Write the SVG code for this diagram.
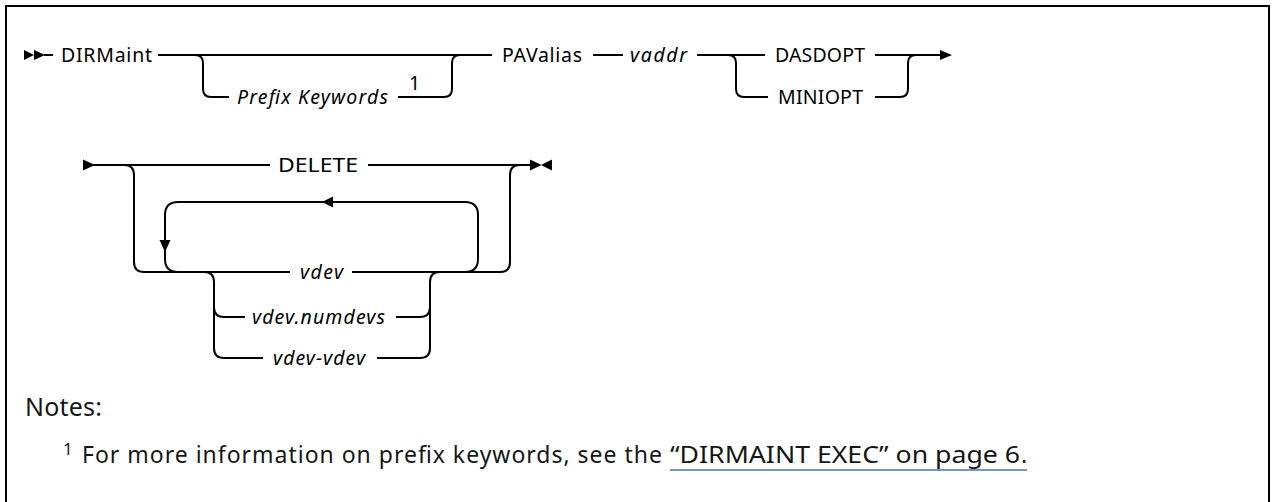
<svg xmlns="http://www.w3.org/2000/svg" width="1273" height="502" viewBox="0 0 1273 502">
  <style>
    .ln { fill: none; stroke: #000; stroke-width: 2; }
    .ah { fill: #000; stroke: none; }
    .t { font-family: "Noto Sans", "Liberation Sans", Arial, sans-serif; font-size: 19.5px; fill: #000; }
    .i { font-style: italic; }
    .n { font-family: "Noto Sans", "Liberation Sans", Arial, sans-serif; font-size: 25px; fill: #161616; }
    .f { font-family: "Noto Sans", "Liberation Sans", Arial, sans-serif; font-size: 23px; fill: #161616; }
    .fs { font-family: "Noto Sans", "Liberation Sans", Arial, sans-serif; font-size: 17px; fill: #161616; }
    .lk { fill: none; stroke: #4a6fb5; stroke-width: 1.5; }
  </style>
  <rect x="0" y="0" width="1273" height="502" fill="#fff"/>
  <path class="ln" d="M6,502 V6 H1269 V502" stroke-width="2.5"/>

  <g id="connectors">
    <polygon class="ah" points="24,50 34,55 24,60"/>
    <polygon class="ah" points="34,50 45,55 34,60"/>
    <path class="ln" d="M44,55 H53"/>
    <path class="ln" d="M158,55 H492"/>
    <path class="ln" d="M195,55 Q203,55 203,63 V89 Q203,97 211,97 H229"/>
    <path class="ln" d="M398,97 H444 Q452,97 452,89 V63 Q452,55 460,55"/>
    <path class="ln" d="M593,55 H623"/>
    <path class="ln" d="M697,55 H765"/>
    <path class="ln" d="M728,55 Q736,55 736,63 V89 Q736,97 744,97 H768"/>
    <path class="ln" d="M875,55 H941"/>
    <polygon class="ah" points="940,50 952,55 940,60"/>
    <path class="ln" d="M875,97 H900 Q908,97 908,89 V63 Q908,55 916,55"/>

    <polygon class="ah" points="83,159.5 95,165 83,170.5"/>
    <path class="ln" d="M90,165 H270"/>
    <path class="ln" d="M368,165 H531"/>
    <polygon class="ah" points="530,159.5 541.5,165 530,170.5"/>
    <polygon class="ah" points="552,159.5 541,165 552,170.5"/>
    <path class="ln" d="M124,165 Q134,165 134,175 V262 Q134,272 144,272 H290"/>
    <path class="ln" d="M352,272 H500 Q510,272 510,262 V175 Q510,165 520,165"/>
    <path class="ln" d="M178,272 Q165,272 165,259 V215 Q165,202 178,202 H465 Q478,202 478,215 V259 Q478,272 465,272"/>
    <polygon class="ah" points="322,202 333,196.5 333,207.5"/>
    <polygon class="ah" points="159.5,240 170.5,240 165,252"/>
    <path class="ln" d="M204,272 Q214,272 214,282 V348 Q214,358 224,358 H263"/>
    <path class="ln" d="M214,307 Q214,317 224,317 H245"/>
    <path class="ln" d="M440,272 Q430,272 430,282 V348 Q430,358 420,358 H377"/>
    <path class="ln" d="M430,307 Q430,317 420,317 H396"/>
  </g>

  <g id="n-dirmaint"><text class="t" x="61" y="62" textLength="91">DIRMaint</text></g>
  <g id="n-prefix"><text class="t i" x="237" y="104" textLength="151">Prefix Keywords</text>
    <text class="t" x="409" y="90">1</text></g>
  <g id="n-pavalias"><text class="t" x="502" y="62" textLength="80">PAValias</text></g>
  <g id="n-vaddr"><text class="t i" x="630" y="62" textLength="57">vaddr</text></g>
  <g id="n-dasdopt"><text class="t" x="775" y="62" textLength="90">DASDOPT</text></g>
  <g id="n-miniopt"><text class="t" x="778" y="104" textLength="85">MINIOPT</text></g>
  <g id="n-delete"><text class="t" x="278" y="172" textLength="80" lengthAdjust="spacingAndGlyphs">DELETE</text></g>
  <g id="n-vdev"><text class="t i" x="300" y="279" textLength="43">vdev</text></g>
  <g id="n-numdevs"><text class="t i" x="252" y="324" textLength="133">vdev.numdevs</text></g>
  <g id="n-range"><text class="t i" x="273" y="365" textLength="92">vdev-vdev</text></g>

  <g id="notes">
    <text class="n" x="25" y="416" textLength="77">Notes:</text>
    <text class="fs" x="63" y="455">1</text>
    <text class="f" x="82" y="463" textLength="580">For more information on prefix keywords, see the</text>
    <text class="f" x="670" y="463" textLength="350" lengthAdjust="spacingAndGlyphs">“DIRMAINT EXEC” on page 6</text>
    <text class="f" x="1021" y="463">.</text>
    <path class="lk" d="M670,470 H1027"/>
  </g>
</svg>
